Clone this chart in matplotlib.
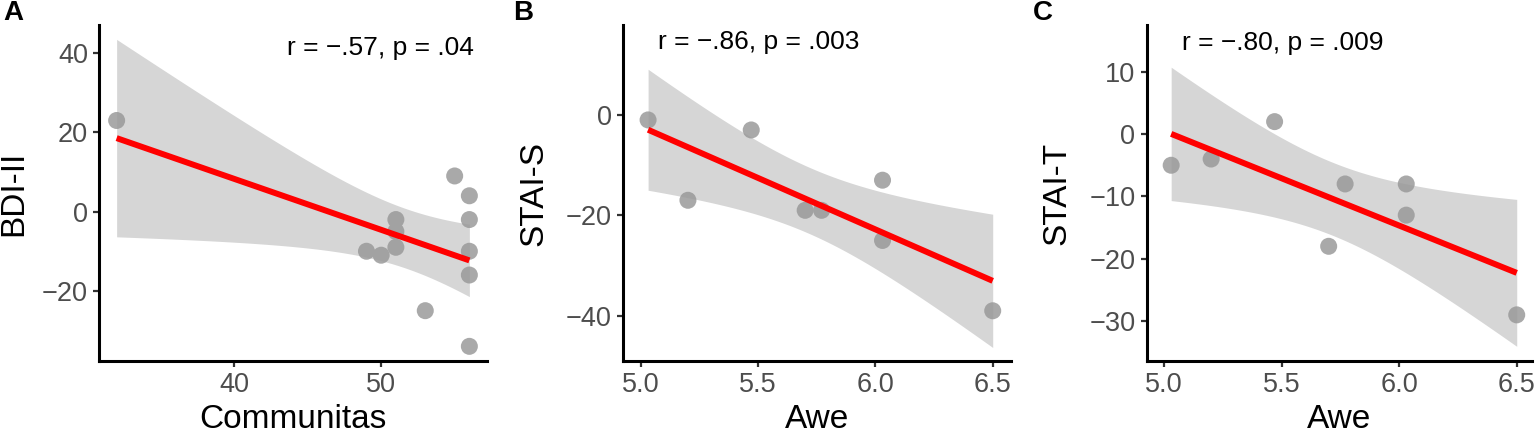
import numpy as np
import matplotlib
matplotlib.use("Agg")
import matplotlib.pyplot as plt

plt.rcParams['font.family'] = ['Liberation Sans', 'DejaVu Sans']

# ---------------- data ----------------
communitas = [32, 49, 50, 51, 51, 51, 53, 55, 56, 56, 56, 56, 56]
bdi = [23, -10, -11, -2, -5, -9, -25, 9, 4, -2, -10, -16, -34]

awe = [5.03, 5.2, 5.47, 5.7, 5.77, 6.03, 6.03, 6.5]
stai_s = [-1, -17, -3, -19, -19, -13, -25, -39]
stai_t = [-5, -4, 2, -18, -8, -8, -13, -29]

# two-sided 95% t critical values for df = n - 2
t_crit = [2.201, 2.447, 2.447]

panel_letters = ["A", "B", "C"]
x_labels = ["Communitas", "Awe", "Awe"]
y_labels = ["BDI-II", "STAI-S", "STAI-T"]
cor_labels = ["r = \u2212.57, p = .04", "r = \u2212.86, p = .003", "r = \u2212.80, p = .009"]
x_ticks = [[40, 50], [5.0, 5.5, 6.0, 6.5], [5.0, 5.5, 6.0, 6.5]]
x_ticklabels = [["40", "50"], ["5.0", "5.5", "6.0", "6.5"], ["5.0", "5.5", "6.0", "6.5"]]
y_ticks = [[-20, 0, 20, 40], [-40, -20, 0], [-30, -20, -10, 0, 10]]
y_ticklabels = [["\u221220", "0", "20", "40"], ["\u221240", "\u221220", "0"],
                ["\u221230", "\u221220", "\u221210", "0", "10"]]

xs = [communitas, awe, awe]
ys = [bdi, stai_s, stai_t]

# ---------------- layout ----------------
W, H = 1535, 434
fig = plt.figure(figsize=(W / 100, H / 100), dpi=100)

ax_px = [(99, 487), (623, 1011), (1146.5, 1532)]
top_px, bot_px = 25, 361
xlims = [(30.8, 57.2), (4.923, 6.578), (4.925, 6.565)]
ylims = [(-37.7, 47.1), (-49.0, 17.9), (-36.4, 17.5)]
cor_pos = [(0.484, 0.932), (0.089, 0.948), (0.091, 0.947)]
letter_px = [3, 513, 1033]
ylabel_pads = [9, 12, 12]

for i in range(3):
    l, r = ax_px[i]
    ax = fig.add_axes([l / W, (H - bot_px) / H, (r - l) / W, (bot_px - top_px) / H])
    x = np.asarray(xs[i], float)
    y = np.asarray(ys[i], float)
    n = len(x)
    slope, intercept = np.polyfit(x, y, 1)
    xx = np.linspace(x.min(), x.max(), 200)
    yy = intercept + slope * xx
    resid = y - (intercept + slope * x)
    s = np.sqrt(np.sum(resid ** 2) / (n - 2))
    sxx = np.sum((x - x.mean()) ** 2)
    se = s * np.sqrt(1 / n + (xx - x.mean()) ** 2 / sxx)
    half = t_crit[i] * se

    ax.scatter(x, y, s=150, color="#A9A9A9", edgecolors="none", zorder=2)
    ax.fill_between(xx, yy - half, yy + half, color="#999999", alpha=0.4,
                    linewidth=0, zorder=3)
    ax.plot(xx, yy, color="#FF0000", linewidth=4.3, zorder=4, solid_capstyle="butt")

    ax.set_xlim(*xlims[i])
    ax.set_ylim(*ylims[i])
    ax.set_xticks(x_ticks[i])
    ax.set_xticklabels(x_ticklabels[i])
    ax.set_yticks(y_ticks[i])
    ax.set_yticklabels(y_ticklabels[i])

    for side in ["top", "right"]:
        ax.spines[side].set_visible(False)
    for side in ["left", "bottom"]:
        ax.spines[side].set_linewidth(2.2)
        ax.spines[side].set_color("black")
    ax.tick_params(axis="both", length=4, width=1.6, color="#333333",
                   labelsize=19.5, labelcolor="#4D4D4D", pad=4)

    ax.set_xlabel(x_labels[i], fontsize=24, color="black", labelpad=4)
    ax.set_ylabel(y_labels[i], fontsize=24, color="black", labelpad=ylabel_pads[i])

    ax.text(cor_pos[i][0], cor_pos[i][1], cor_labels[i], transform=ax.transAxes,
            ha="left", va="center", fontsize=19, color="black")

    fig.text(letter_px[i] / W, 1 - 0 / H, panel_letters[i], ha="left", va="top",
             fontsize=20, fontweight="bold", color="black")

fig.savefig("out.png", dpi=100)
